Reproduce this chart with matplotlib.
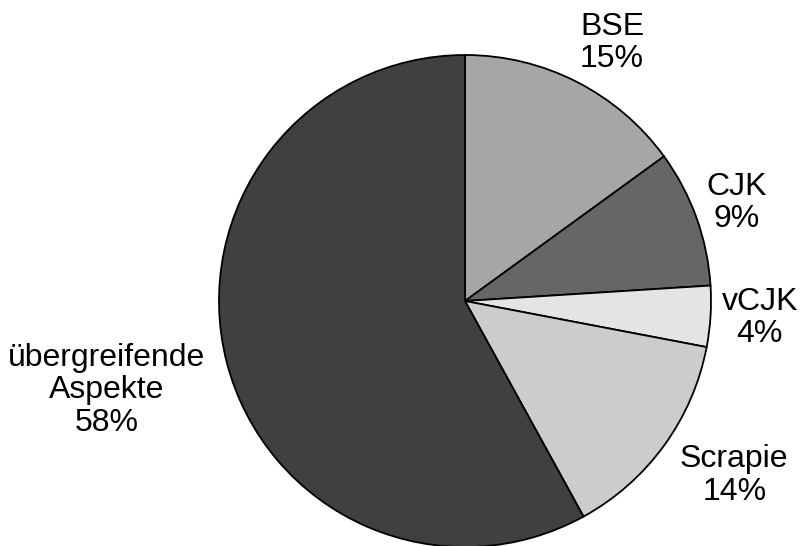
import numpy as np
import matplotlib
matplotlib.use("Agg")
import matplotlib.pyplot as plt

plt.rcParams['font.family'] = ['Liberation Sans', 'DejaVu Sans']

labels = ["BSE", "CJK", "vCJK", "Scrapie", "übergreifende\nAspekte"]
shares = [15, 9, 4, 14, 58]
colors = ["#a6a6a6", "#666666", "#e4e4e4", "#cccccc", "#404040"]

# label distance from centre (in radii) and small angle nudge (deg)
label_dist = [1.207, 1.175, 1.20, 1.305, 1.50]
label_nudge = [-2.7, 0.0, 0.3, 3.0, -0.4]

W, H = 802, 546
cx, cy, r = 465, 301, 246

fig = plt.figure(figsize=(W / 100, H / 100), dpi=100)
ax = fig.add_axes([0, 0, 1, 1])

wedges, _ = ax.pie(shares, colors=colors, startangle=90, counterclock=False,
                   wedgeprops=dict(edgecolor="black", linewidth=1.3))

for w, lab, val, d, nudge in zip(wedges, labels, shares, label_dist, label_nudge):
    ang = np.deg2rad((w.theta1 + w.theta2) / 2 + nudge)
    ax.text(d * np.cos(ang), d * np.sin(ang), f"{lab}\n{val}%",
            ha="center", va="center", multialignment="center",
            fontsize=23, linespacing=1.12, color="black")

ax.set_aspect("auto")
ax.set_xlim(-cx / r, (W - cx) / r)
ax.set_ylim(-(H - cy) / r, cy / r)
ax.axis("off")

fig.savefig("out.png", dpi=100)
